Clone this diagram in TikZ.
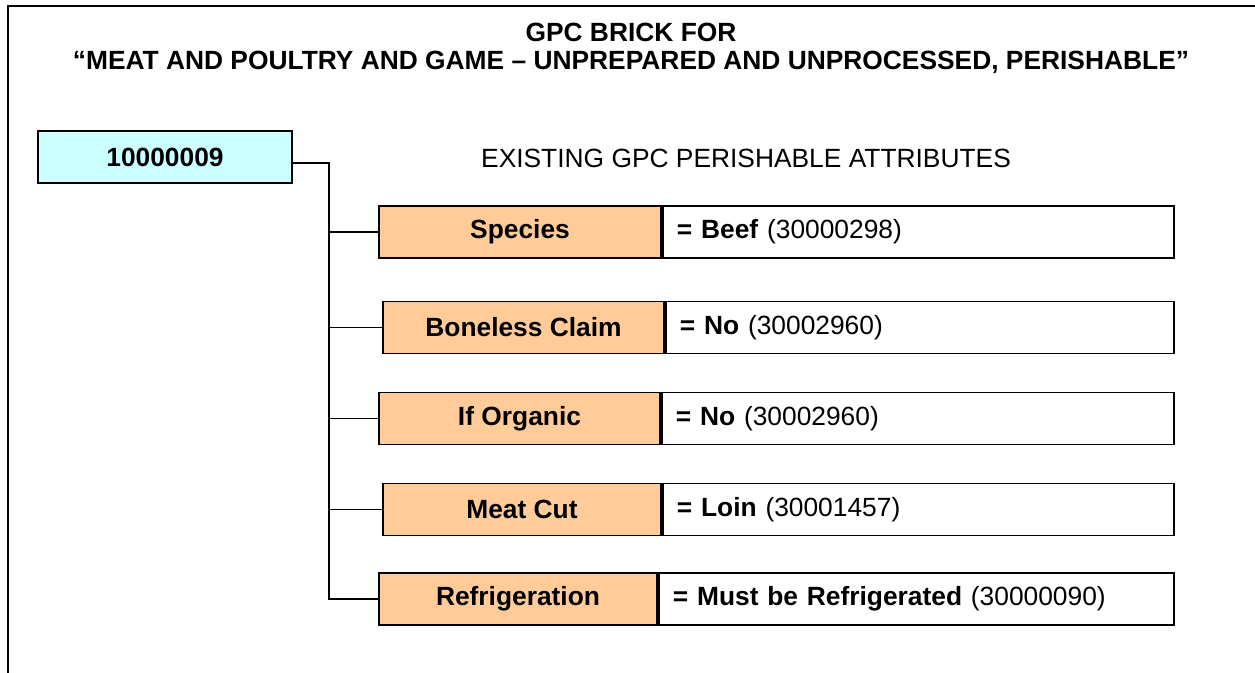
\documentclass[tikz,border=0pt]{standalone}
\usepackage{fontspec}
\setmainfont{Liberation Sans}
\usetikzlibrary{positioning}
\newlength\px
\setlength\px{0.02cm}
\newcommand\diagsize{\fontsize{15}{18}\selectfont}
\definecolor{brickcyan}{HTML}{CCFFFF}
\definecolor{attrorange}{HTML}{FFCC99}

\begin{document}
\begin{tikzpicture}[x=0.02cm,y=-0.02cm,line width=1.1pt,
  brickbox/.style={rectangle,draw,fill=brickcyan,inner sep=0pt,minimum width=254\px,minimum height=52\px,font=\diagsize\bfseries},
  attrbox/.style={rectangle,draw,fill=attrorange,inner sep=0pt,minimum height=52\px,font=\diagsize\bfseries},
  valbox/.style={rectangle,draw,fill=white,inner xsep=14\px,inner ysep=0pt,minimum height=52\px,align=left,font=\diagsize},
  plaintext/.style={inner sep=0pt,font=\diagsize}]
		\useasboundingbox (0,0) rectangle (1255,673);
		\draw[line width=1.7pt] (8,673) -- (8,6) -- (1255,6);
		\node [plaintext,font=\diagsize\bfseries] (title) at (631,32) {GPC BRICK FOR};
		\node [plaintext,font=\diagsize\bfseries] (subtitle) at (631,62) {“MEAT AND POULTRY AND GAME – UNPREPARED AND UNPROCESSED, PERISHABLE”};
		\node [brickbox] (brick) at (165,157) {10000009};
		\node [plaintext] (heading) at (746,158) {EXISTING GPC PERISHABLE ATTRIBUTES};
		\node [attrbox,minimum width=282\px] (species) at (520,232) {Species};
		\node [attrbox,minimum width=281\px] (boneless) at (523.5,327.5) {Boneless Claim};
		\node [attrbox,minimum width=281\px] (organic) at (519.5,418.5) {If Organic};
		\node [attrbox,minimum width=278\px] (cut) at (522,509.5) {Meat Cut};
		\node [attrbox,minimum width=278\px] (refrig) at (518,599) {Refrigeration};
		\node [valbox,text width=9.66cm,right=0pt of species] (speciesv) {\textbf{= Beef} (30000298)};
		\node [valbox,text width=9.6cm,right=0pt of boneless] (bonelessv) {\textbf{= No} (30002960)};
		\node [valbox,text width=9.68cm,right=0pt of organic] (organicv) {\textbf{= No} (30002960)};
		\node [valbox,text width=9.66cm,right=0pt of cut] (cutv) {\textbf{= Loin} (30001457)};
		\node [valbox,text width=9.74cm,right=0pt of refrig] (refrigv) {\textbf{= Must be Refrigerated} (30000090)};
		\coordinate (trunk) at (329,163);
		\draw (brick.east |- trunk) -- (trunk) |- (refrig.west);
		\foreach \n in {species,boneless,organic,cut}
			\draw (trunk |- \n.west) -- (\n.west);
	\end{tikzpicture}
\end{document}
